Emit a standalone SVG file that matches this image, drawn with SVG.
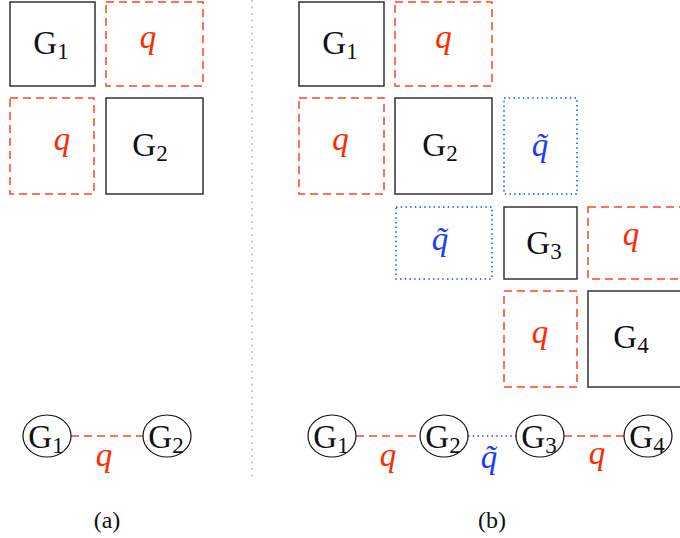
<svg xmlns="http://www.w3.org/2000/svg" width="680" height="538" viewBox="0 0 680 538">
<style>
.g{fill:none;stroke:#333;stroke-width:1.5}
.r{fill:none;stroke:#ff4422;stroke-width:1.5;stroke-dasharray:8 5}
.b{fill:none;stroke:#2244ff;stroke-width:1.5;stroke-dasharray:1.5 3.2}
.c{fill:none;stroke:#111;stroke-width:1.2}
.t{font-family:"Liberation Serif",serif;font-size:33px;fill:#111;text-anchor:middle}
.s{font-size:23px}
.q{font-family:"Liberation Serif",serif;font-style:italic;font-size:33px;fill:#ff2a00;text-anchor:middle}
.qb{font-family:"Liberation Serif",serif;font-style:italic;font-size:33px;fill:#1a3cff;text-anchor:middle}
.l{font-family:"Liberation Serif",serif;font-size:24px;fill:#111;text-anchor:middle}
</style>
<line x1="252" y1="0" x2="252" y2="478" stroke="#b0b0b0" stroke-width="1.3" stroke-dasharray="2 4.5"/>
<g id="panel-a-matrix">
<g id="a-G1box"><rect class="g" x="10" y="2" width="85" height="84"/><text class="t" x="51" y="54">G<tspan class="s" dy="5">1</tspan></text></g>
<g id="a-q12"><rect class="r" x="106" y="2" width="97" height="84"/><text class="q" x="148" y="48">q</text></g>
<g id="a-q21"><rect class="r" x="10" y="98" width="84" height="96"/><text class="q" x="62" y="150">q</text></g>
<g id="a-G2box"><rect class="g" x="106" y="98" width="97" height="96"/><text class="t" x="150" y="156">G<tspan class="s" dy="5">2</tspan></text></g>
</g>
<g id="panel-b-matrix">
<g id="b-G1box"><rect class="g" x="299" y="2" width="85" height="84"/><text class="t" x="340" y="54">G<tspan class="s" dy="5">1</tspan></text></g>
<g id="b-q12"><rect class="r" x="395" y="2" width="97" height="84"/><text class="q" x="443.5" y="48">q</text></g>
<g id="b-q21"><rect class="r" x="299" y="98" width="85" height="96"/><text class="q" x="340.5" y="150">q</text></g>
<g id="b-G2box"><rect class="g" x="395" y="98" width="97" height="96"/><text class="t" x="440" y="156">G<tspan class="s" dy="5">2</tspan></text></g>
<g id="b-qt23"><rect class="b" x="504" y="98" width="73" height="96"/><text class="qb" x="540" y="156">q̃</text></g>
<g id="b-qt32"><rect class="b" x="396" y="207" width="96" height="72"/><text class="qb" x="440" y="250">q̃</text></g>
<g id="b-G3box"><rect class="g" x="504" y="207" width="73" height="72"/><text class="t" x="544" y="254">G<tspan class="s" dy="5">3</tspan></text></g>
<g id="b-q34"><rect class="r" x="588" y="207" width="100" height="72"/><text class="q" x="631" y="245">q</text></g>
<g id="b-q43"><rect class="r" x="504" y="291" width="73" height="96"/><text class="q" x="540" y="343">q</text></g>
<g id="b-G4box"><rect class="g" x="588" y="291" width="100" height="96"/><text class="t" x="631" y="348">G<tspan class="s" dy="5">4</tspan></text></g>
</g>
<g id="connectors">
<line class="r" x1="71" y1="436" x2="143" y2="436"/>
<line class="r" x1="356" y1="436" x2="420" y2="436"/>
<line class="b" x1="468" y1="436" x2="516" y2="436"/>
<line class="r" x1="564" y1="436" x2="624" y2="436"/>
<text class="q" x="104" y="466">q</text>
<text class="q" x="388" y="466">q</text>
<text class="qb" x="489" y="468">q̃</text>
<text class="q" x="597" y="464">q</text>
</g>
<g id="a-n1"><ellipse class="c" cx="47" cy="436" rx="24" ry="21"/><text class="t" x="46" y="448">G<tspan class="s" dy="5">1</tspan></text></g>
<g id="a-n2"><ellipse class="c" cx="167" cy="436" rx="24" ry="21"/><text class="t" x="166" y="448">G<tspan class="s" dy="5">2</tspan></text></g>
<g id="b-n1"><ellipse class="c" cx="332" cy="436" rx="24" ry="21"/><text class="t" x="331" y="448">G<tspan class="s" dy="5">1</tspan></text></g>
<g id="b-n2"><ellipse class="c" cx="444" cy="436" rx="24" ry="21"/><text class="t" x="443" y="448">G<tspan class="s" dy="5">2</tspan></text></g>
<g id="b-n3"><ellipse class="c" cx="540" cy="436" rx="24" ry="21"/><text class="t" x="539" y="448">G<tspan class="s" dy="5">3</tspan></text></g>
<g id="b-n4"><ellipse class="c" cx="648" cy="436" rx="24" ry="21"/><text class="t" x="647" y="448">G<tspan class="s" dy="5">4</tspan></text></g>
<text class="l" x="107" y="528">(a)</text>
<text class="l" x="492" y="528">(b)</text>
</svg>
